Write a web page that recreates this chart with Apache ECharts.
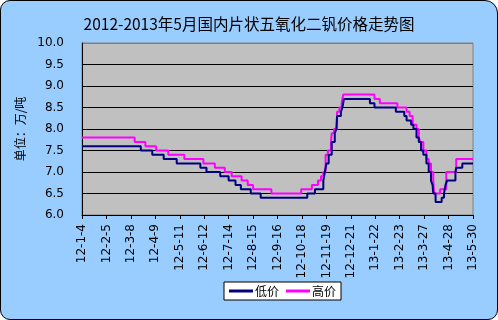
<!DOCTYPE html>
<html>
<head>
<meta charset="utf-8">
<script src="https://cdn.jsdelivr.net/npm/echarts@6/dist/echarts.min.js"></script>
<style>
html,body{margin:0;padding:0;background:#fff;}
#frame{position:absolute;left:0;top:0;width:498px;height:320px;box-sizing:border-box;border:1px solid #000;border-radius:10px 13px 10px 10px;background:#99CCFF;}
#main{position:absolute;left:0;top:0;width:498px;height:320px;}
</style>
</head>
<body>
<div id="frame"></div>
<div id="main"></div>
<script>
// Tick labels on the date axis (every 32 days from 2012-1-4)
const tickLabels = ['12-1-4','12-2-5','12-3-8','12-4-9','12-5-11','12-6-12','12-7-14','12-8-15','12-9-16','12-10-18','12-11-19','12-12-21','13-1-22','13-2-23','13-3-27','13-4-28','13-5-30'];

// 低价: dates where the price changed, and the new price (万/吨)
const lowDates = ['2012-01-04','2012-03-21','2012-04-05','2012-04-20','2012-05-07','2012-06-07','2012-06-15','2012-07-03','2012-07-14','2012-07-23','2012-07-30','2012-08-12','2012-08-25','2012-10-25','2012-11-04','2012-11-15','2012-11-17','2012-11-19','2012-11-22','2012-11-26','2012-11-30','2012-12-02','2012-12-03','2012-12-08','2012-12-10','2012-12-12','2013-01-15','2013-01-21','2013-02-18','2013-03-01','2013-03-04','2013-03-10','2013-03-13','2013-03-17','2013-03-20','2013-03-23','2013-03-26','2013-03-30','2013-04-02','2013-04-05','2013-04-07','2013-04-08','2013-04-11','2013-04-19','2013-04-22','2013-04-24','2013-04-26','2013-05-07','2013-05-08','2013-05-16','2013-05-30'];
const lowValues = [7.6,7.5,7.4,7.3,7.2,7.1,7.0,6.9,6.8,6.7,6.6,6.5,6.4,6.5,6.6,6.8,7.0,7.2,7.4,7.7,7.9,8.0,8.3,8.4,8.5,8.7,8.6,8.5,8.4,8.3,8.2,8.1,8.0,7.8,7.7,7.5,7.4,7.2,7.0,6.8,6.7,6.5,6.3,6.4,6.5,6.7,6.8,7.0,7.1,7.2,7.2];

// 高价
const highDates = ['2012-01-04','2012-03-13','2012-03-27','2012-04-10','2012-04-26','2012-05-17','2012-06-11','2012-06-26','2012-07-09','2012-07-18','2012-07-31','2012-08-08','2012-08-15','2012-09-08','2012-10-17','2012-10-31','2012-11-08','2012-11-12','2012-11-15','2012-11-18','2012-11-21','2012-11-25','2012-11-26','2012-11-29','2012-12-03','2012-12-06','2012-12-09','2012-12-11','2013-01-21','2013-01-28','2013-02-20','2013-03-04','2013-03-08','2013-03-12','2013-03-17','2013-03-20','2013-03-22','2013-03-26','2013-03-30','2013-04-02','2013-04-05','2013-04-08','2013-04-09','2013-04-17','2013-04-25','2013-05-08','2013-05-30'];
const highValues = [7.8,7.7,7.6,7.5,7.4,7.3,7.2,7.1,7.0,6.9,6.8,6.7,6.6,6.5,6.6,6.7,6.8,6.9,7.0,7.4,7.5,7.7,7.9,8.0,8.4,8.5,8.6,8.8,8.7,8.6,8.5,8.4,8.3,8.1,8.0,7.8,7.7,7.5,7.3,7.2,7.0,6.8,6.5,6.6,7.0,7.3,7.3];

const START = Date.UTC(2012, 0, 4);
function dayOffset(s) {
  const p = s.split('-').map(Number);
  return Math.round((Date.UTC(p[0], p[1] - 1, p[2]) - START) / 86400000);
}
function pairs(dates, vals) { return dates.map((d, i) => [dayOffset(d), vals[i]]); }

const chart = echarts.init(document.getElementById('main'), null, {renderer: 'canvas'});
const txt = 'DejaVu Sans';
chart.setOption({
  backgroundColor: 'transparent',
  animation: false,
  title: {
    text: '2012-2013年5月国内片状五氧化二钒价格走势图',
    left: 'center', top: 11,
    textStyle: {fontFamily: 'Noto Sans CJK SC', fontSize: 15.5, fontWeight: 'normal', color: '#000'}
  },
  legend: {
    left: 224, top: 282,
    backgroundColor: '#fff', borderColor: '#000', borderWidth: 1,
    padding: [3, 5], itemGap: 7, itemWidth: 24, itemHeight: 3, icon: 'rect',
    textStyle: {fontFamily: 'Noto Sans CJK SC', fontSize: 12, color: '#000', padding: [0, 0, 0, -3]},
    data: ['低价', '高价']
  },
  grid: {
    left: 82, top: 43, width: 391, height: 172,
    show: true, backgroundColor: '#C0C0C0', borderColor: '#808080', borderWidth: 1
  },
  xAxis: {
    type: 'value', min: 0, max: 512, interval: 32,
    axisLine: {show: true, lineStyle: {color: '#000', width: 1}},
    axisTick: {show: true, length: 4, lineStyle: {color: '#000'}},
    splitLine: {show: false},
    axisLabel: {
      rotate: 90, margin: 9, color: '#000', fontFamily: txt, fontSize: 12,
      formatter: v => tickLabels[Math.round(v / 32)] || ''
    }
  },
  yAxis: {
    type: 'value', min: 6, max: 10, interval: 0.5,
    name: '单位：万/吨', nameLocation: 'middle', nameGap: 47,
    nameTextStyle: {fontFamily: 'Noto Sans CJK SC', fontSize: 12, color: '#000'},
    axisLine: {show: true, lineStyle: {color: '#000', width: 1}},
    axisTick: {show: false},
    splitLine: {show: true, lineStyle: {color: ['#000','#000','#000','#000','#000','#000','#000','#000','#808080'], width: 1}},
    axisLabel: {color: '#000', fontFamily: txt, fontSize: 12, margin: 18, formatter: v => v.toFixed(1)}
  },
  series: [
    {name: '低价', type: 'line', step: 'end', showSymbol: false, symbol: 'none',
     data: pairs(lowDates, lowValues), color: '#000080', lineStyle: {color: '#000080', width: 2}, z: 3},
    {name: '高价', type: 'line', step: 'end', showSymbol: false, symbol: 'none',
     data: pairs(highDates, highValues), color: '#FF00FF', lineStyle: {color: '#FF00FF', width: 2}, z: 2}
  ]
});
</script>
</body>
</html>
